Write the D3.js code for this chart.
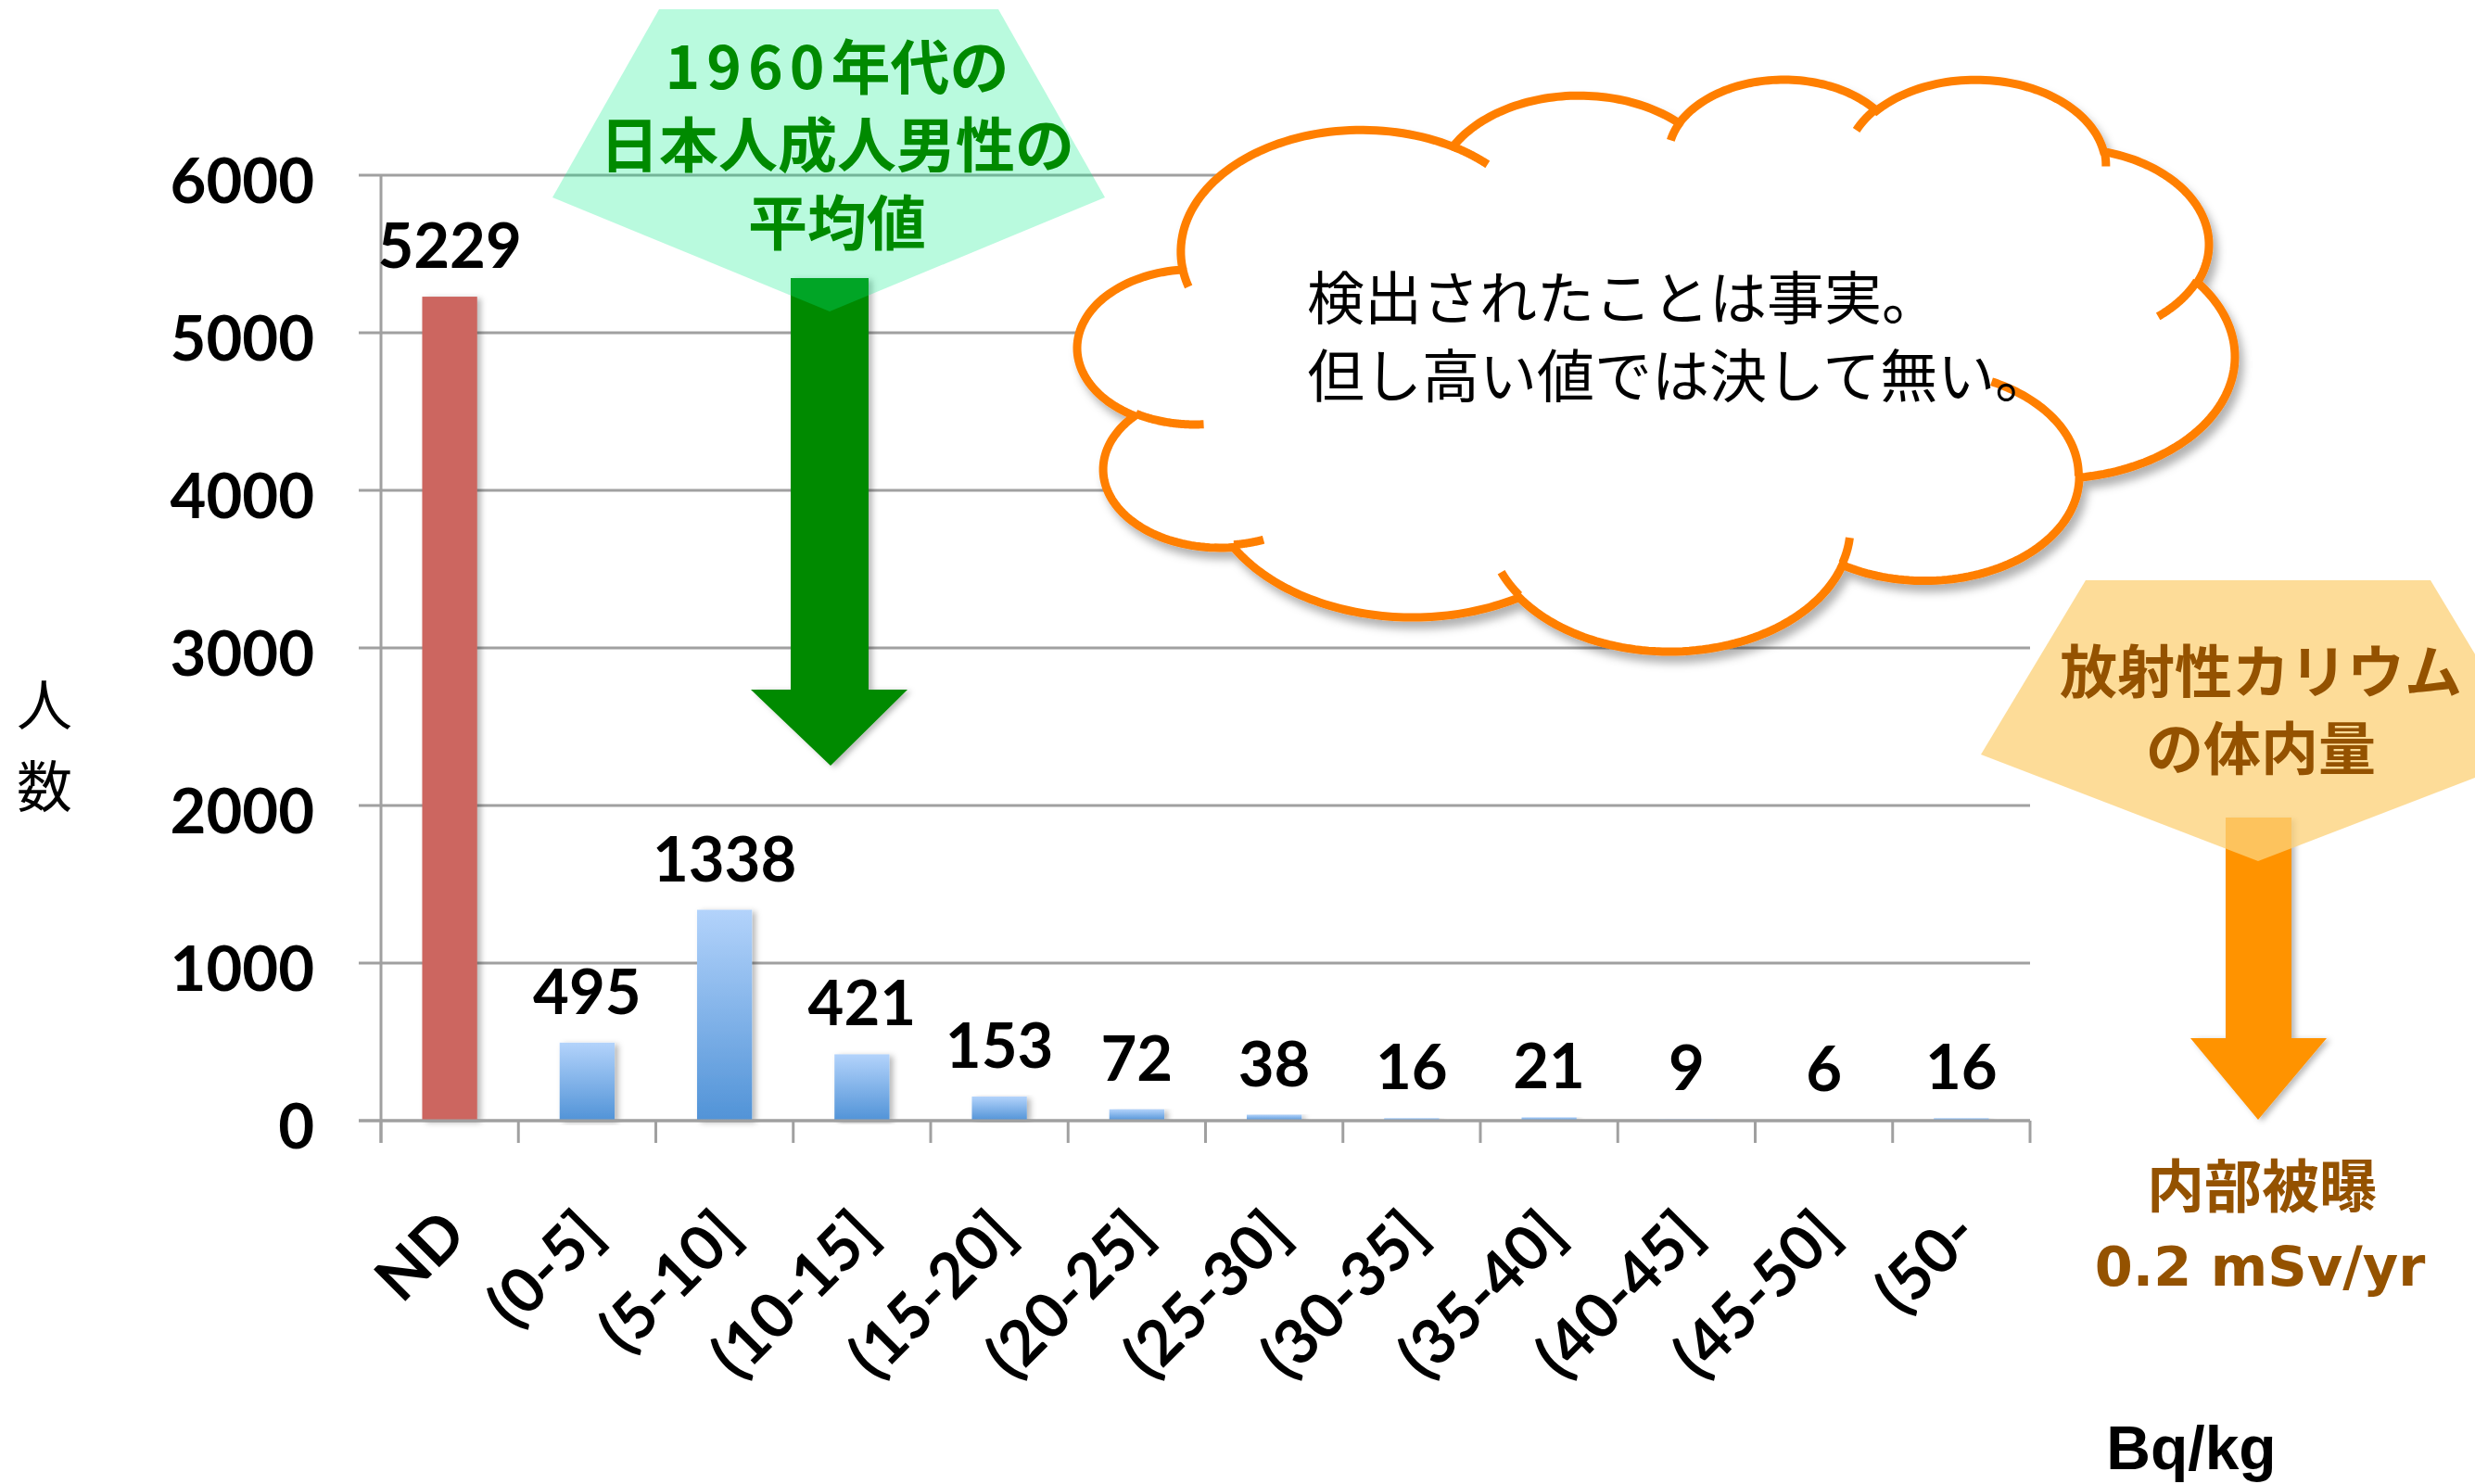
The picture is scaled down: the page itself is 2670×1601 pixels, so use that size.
<!DOCTYPE html>
<html>
<head>
<meta charset="utf-8">
<script src="https://cdn.jsdelivr.net/npm/d3@7"></script>
<style>
  body { margin: 0; background: #fff; }
  svg { display: block; }
</style>
</head>
<body>
<svg id="chart"></svg>
<script>
//data
var categories = ["ND", "(0-5]", "(5-10]", "(10-15]", "(15-20]", "(20-25]",
                  "(25-30]", "(30-35]", "(35-40]", "(40-45]", "(45-50]", "(50-"];
var counts = [5229, 495, 1338, 421, 153, 72, 38, 16, 21, 9, 6, 16];
var yTicks = [0, 1000, 2000, 3000, 4000, 5000, 6000];

var width = 2670;
var height = 1601;

var numFont = "Lato, 'Open Sans', sans-serif";
var jpFont = "'Noto Sans CJK JP', 'Noto Sans', sans-serif";

var svg = d3.select("#chart")
            .attr("width", width)
            .attr("height", height);

var defs = svg.append("defs");

var grad = defs.append("linearGradient")
  .attr("id", "blueGrad")
  .attr("x1", 0).attr("y1", 0)
  .attr("x2", 0).attr("y2", 1);
grad.append("stop").attr("offset", "0%").attr("stop-color", "#b3d3fb");
grad.append("stop").attr("offset", "100%").attr("stop-color", "#5193d7");

defs.append("filter")
  .attr("id", "barShadow")
  .attr("x", "-30%").attr("y", "-5%")
  .attr("width", "160%").attr("height", "110%")
  .append("feDropShadow")
  .attr("dx", 4).attr("dy", 2)
  .attr("stdDeviation", 3)
  .attr("flood-color", "#000")
  .attr("flood-opacity", 0.28);

defs.append("filter")
  .attr("id", "softShadow")
  .attr("x", "-10%").attr("y", "-10%")
  .attr("width", "120%").attr("height", "125%")
  .append("feDropShadow")
  .attr("dx", 5).attr("dy", 8)
  .attr("stdDeviation", 5)
  .attr("flood-color", "#000")
  .attr("flood-opacity", 0.3);

//scales
var x = d3.scaleBand()
  .domain(categories)
  .range([411, 2190])
  .paddingInner(0.6)
  .paddingOuter(0.3);

var y = d3.scaleLinear()
  .domain([0, 6000])
  .range([1209, 189]);

var base = svg.append("g");

//gridlines + y labels
var grid = base.append("g");

yTicks.forEach(function (t) {
  grid.append("line")
    .attr("x1", 387)
    .attr("x2", x.range()[1])
    .attr("y1", y(t))
    .attr("y2", y(t))
    .attr("stroke", "#a0a0a0")
    .attr("stroke-width", 3);

  grid.append("text")
    .text(t)
    .attr("font-family", numFont)
    .attr("font-size", "67px")
    .attr("font-weight", "bold")
    .attr("text-anchor", "end")
    .attr("dy", "0.45em")
    .attr("x", 339)
    .attr("y", y(t));
});

//axes
var axis = base.append("g")
  .attr("stroke", "#a0a0a0")
  .attr("stroke-width", 3);

axis.append("line")
  .attr("x1", x.range()[0])
  .attr("x2", x.range()[0])
  .attr("y1", y(6000))
  .attr("y2", y(0) + 24);

d3.range(categories.length + 1).forEach(function (i) {
  var bx = x.range()[0] + i * x.step();
  axis.append("line")
    .attr("x1", bx)
    .attr("x2", bx)
    .attr("y1", y(0))
    .attr("y2", y(0) + 24);
});

//bars
var bars = base.append("g");

categories.forEach(function (c, i) {
  bars.append("rect")
    .attr("x", x(c))
    .attr("y", y(counts[i]))
    .attr("width", x.bandwidth())
    .attr("height", y(0) - y(counts[i]))
    .attr("fill", i == 0 ? "#cc6660" : "url(#blueGrad)")
    .attr("filter", "url(#barShadow)");

  bars.append("text")
    .text(counts[i])
    .attr("font-family", numFont)
    .attr("font-size", "67px")
    .attr("font-weight", "bold")
    .attr("text-anchor", "middle")
    .attr("x", x(c) + x.bandwidth() / 2)
    .attr("y", y(counts[i]) - 31);
});

base.append("line")
  .attr("x1", 387)
  .attr("x2", x.range()[1])
  .attr("y1", y(0))
  .attr("y2", y(0))
  .attr("stroke", "#a0a0a0")
  .attr("stroke-width", 3);

//x labels
var xLabels = base.append("g");

categories.forEach(function (c) {
  var cx = x(c) + x.bandwidth() / 2 + 21;
  xLabels.append("text")
    .text(c)
    .attr("font-family", numFont)
    .attr("font-size", "67px")
    .attr("font-weight", "bold")
    .attr("text-anchor", "end")
    .attr("transform", "translate(" + cx + ",1335) rotate(-45)");
});

//axis titles
var titles = base.append("g");

["人", "数"].forEach(function (ch, i) {
  titles.append("text")
    .text(ch)
    .attr("font-family", jpFont)
    .attr("font-size", "60px")
    .attr("text-anchor", "middle")
    .attr("x", 48)
    .attr("y", 783 + i * 88);
});

titles.append("text")
  .text("Bq/kg")
  .attr("font-family", "'Liberation Sans', Arial, sans-serif")
  .attr("font-size", "66px")
  .attr("font-weight", "bold")
  .attr("text-anchor", "middle")
  .attr("x", 2364)
  .attr("y", 1585);

//green arrow + callout
var green = svg.append("g");

green.append("path")
  .attr("d", "M853,300 L937,300 L937,744 L979,744 L896,826 L810,744 L853,744 Z")
  .attr("fill", "#008a00")
  .attr("filter", "url(#barShadow)");

green.append("path")
  .attr("d", "M711,10 L1077,10 L1192,213 L895,336 L596,213 Z")
  .attr("fill", "rgb(5,236,137)")
  .attr("fill-opacity", 0.28);

var line1 = green.append("text")
  .attr("font-family", jpFont)
  .attr("font-size", "64px")
  .attr("font-weight", "bold")
  .attr("fill", "#008a00")
  .attr("text-anchor", "middle")
  .attr("x", 903)
  .attr("y", 96);
line1.append("tspan").text("1960").attr("letter-spacing", "7px");
line1.append("tspan").text("年代の");

["日本人成人男性の", "平均値"].forEach(function (s, i) {
  green.append("text")
    .text(s)
    .attr("font-family", jpFont)
    .attr("font-size", "64px")
    .attr("font-weight", "bold")
    .attr("fill", "#008a00")
    .attr("text-anchor", "middle")
    .attr("x", 903)
    .attr("y", 180 + i * 84);
});

//cloud (powerpoint cloud outline, path units 43200)
var cloudArcs = [
  [6753, 9190, -11429249, 7426832], [5333, 7267, -8646143, 5396714],
  [4365, 5945, -8748475, 5983381], [4857, 6595, -7859164, 7034504],
  [5333, 7273, -4722533, 6541615], [6775, 9220, -2776035, 7816140],
  [5785, 7867, 37501, 6842000], [6752, 9215, 1347096, 6910353],
  [7720, 10543, 3974558, 4542661], [4360, 5918, -16496525, 8804134],
  [4345, 5945, -14809710, 9151131]
];
var cloudHooks = [
  [4693, 26177, 4345, 5945, 5204520, 1585770],
  [6928, 34899, 4360, 5918, 4416628, 686848],
  [16478, 39090, 6752, 9215, 8257449, 844866],
  [28827, 34751, 6752, 9215, 387196, 959901],
  [34129, 22954, 5785, 7867, -4217541, 4255042],
  [41798, 15354, 5333, 7273, 1819082, 1665090],
  [38324, 5426, 4857, 6595, -824660, 891816],
  [29078, 3952, 4857, 6595, -8950887, 1091932],
  [22141, 4720, 4365, 5945, -9809656, 1061286],
  [14000, 5192, 6753, 9190, -4002417, 739161],
  [4127, 15789, 6753, 9190, 9459261, 711490]
];

function paramAngle(th, wR, hR) {
  var t = Math.atan2(Math.sin(th) * wR, Math.cos(th) * hR);
  while (t - th > Math.PI) t -= 2 * Math.PI;
  while (th - t > Math.PI) t += 2 * Math.PI;
  return t;
}

function arcPts(px, py, wR, hR, st, sw) {
  var th1 = st / 60000 * Math.PI / 180;
  var th2 = (st + sw) / 60000 * Math.PI / 180;
  var t1 = paramAngle(th1, wR, hR);
  var t2 = paramAngle(th2, wR, hR);
  var cx = px - wR * Math.cos(t1);
  var cy = py - hR * Math.sin(t1);
  var pts = [];
  var n = 60;
  for (var k = 1; k <= n; k++) {
    var t = t1 + (t2 - t1) * k / n;
    pts.push([cx + wR * Math.cos(t), cy + hR * Math.sin(t)]);
  }
  return pts;
}

var outline = [[3900, 14370]];
cloudArcs.forEach(function (a) {
  var last = outline[outline.length - 1];
  outline = outline.concat(arcPts(last[0], last[1], a[0], a[1], a[2], a[3]));
});

var hooks = cloudHooks.map(function (h) {
  return [[h[0], h[1]]].concat(arcPts(h[0], h[1], h[2], h[3], h[4], h[5]));
});

var cloudBox = {x0: 1162, x1: 2411, y0: 86, y1: 703};
var cx = d3.scaleLinear()
  .domain(d3.extent(outline, function (p) { return p[0]; }))
  .range([cloudBox.x0, cloudBox.x1]);
var cy = d3.scaleLinear()
  .domain(d3.extent(outline, function (p) { return p[1]; }))
  .range([cloudBox.y0, cloudBox.y1]);

var cloudLine = d3.line()
  .x(function (p) { return cx(p[0]); })
  .y(function (p) { return cy(p[1]); });

var cloud = svg.append("g");

cloud.append("path")
  .attr("d", cloudLine(outline) + "Z")
  .attr("fill", "#fff")
  .attr("stroke", "#ff7f00")
  .attr("stroke-width", 9)
  .attr("filter", "url(#softShadow)");

hooks.forEach(function (h) {
  cloud.append("path")
    .attr("d", cloudLine(h))
    .attr("fill", "none")
    .attr("stroke", "#ff7f00")
    .attr("stroke-width", 9);
});

["検出されたことは事実。", "但し高い値では決して無い。"].forEach(function (s, i) {
  cloud.append("text")
    .text(s)
    .attr("font-family", jpFont)
    .attr("font-size", "62px")
    .attr("fill", "#000")
    .attr("x", 1410)
    .attr("y", 345 + i * 84);
});

//orange arrow + callout
var orange = svg.append("g");

orange.append("path")
  .attr("d", "M2401,882 L2472,882 L2472,1120 L2510,1120 L2436,1208 L2363,1120 L2401,1120 Z")
  .attr("fill", "#ff9300")
  .attr("filter", "url(#barShadow)");

orange.append("path")
  .attr("d", "M2250,626 L2622,626 L2735,814 L2436,929 L2137,814 Z")
  .attr("fill", "#fcd279")
  .attr("fill-opacity", 0.77);

["放射性カリウム", "の体内量"].forEach(function (s, i) {
  orange.append("text")
    .text(s)
    .attr("font-family", jpFont)
    .attr("font-size", "62px")
    .attr("font-weight", "bold")
    .attr("fill", "#945200")
    .attr("text-anchor", "middle")
    .attr("x", 2439)
    .attr("y", 748 + i * 83);
});

orange.append("text")
  .text("内部被曝")
  .attr("font-family", jpFont)
  .attr("font-size", "62px")
  .attr("font-weight", "bold")
  .attr("fill", "#945200")
  .attr("text-anchor", "middle")
  .attr("x", 2440)
  .attr("y", 1303);

orange.append("text")
  .text("0.2 mSv/yr")
  .attr("font-family", "'DejaVu Sans', Verdana, sans-serif")
  .attr("font-size", "59px")
  .attr("font-weight", "bold")
  .attr("fill", "#945200")
  .attr("text-anchor", "middle")
  .attr("x", 2438)
  .attr("y", 1387);
</script>
</body>
</html>
